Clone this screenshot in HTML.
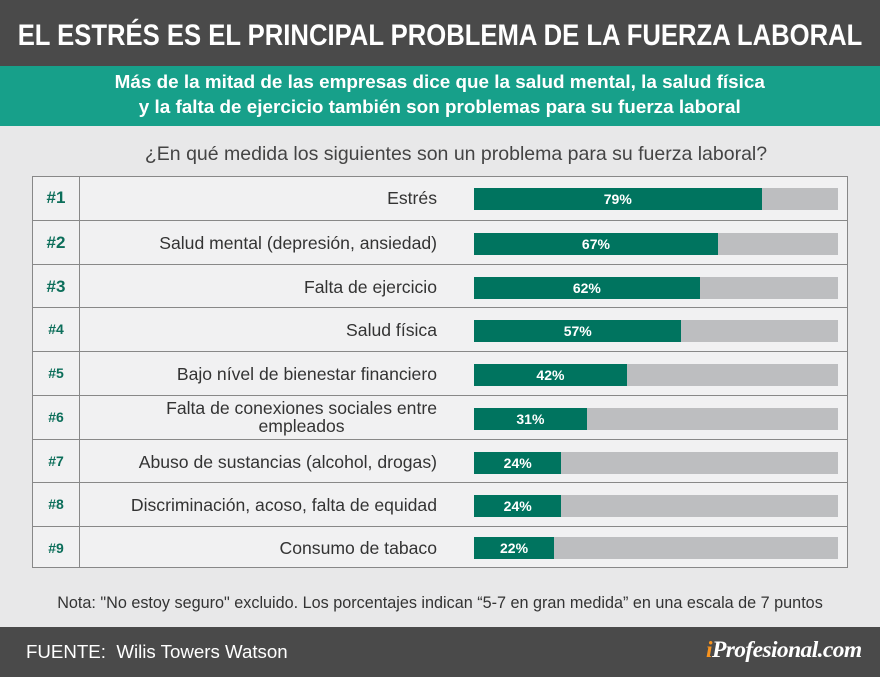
<!DOCTYPE html><html><head><meta charset="utf-8"><style>
body{margin:0;width:880px;height:677px;background:#e8e8e9;font-family:"Liberation Sans",sans-serif;position:relative;overflow:hidden}
.a{position:absolute}
.hd{left:0;top:0;width:880px;height:66px;background:#4a4a4a;overflow:hidden}
.hd span{position:absolute;left:440px;top:0;line-height:72px;color:#fff;font-weight:bold;font-size:30px;white-space:nowrap;transform:translateX(-50%) scaleX(0.855);transform-origin:center}
.sb{left:0;top:66px;width:880px;height:60px;background:#17a08a;color:#fff;font-weight:bold;font-size:18.5px;text-align:center;line-height:25px;padding-top:3px;box-sizing:border-box}
.sb span{display:inline-block;transform:scaleX(1.02)}
.q{left:16px;width:880px;top:143px;text-align:center;font-size:19.5px;color:#444}
.tb{left:32px;top:176px;width:816px;height:392px;border:1px solid #888;box-sizing:border-box;background:#f1f1f2}
.row{position:absolute;left:0;width:814px;border-top:1px solid #888;box-sizing:border-box}
.rk{position:absolute;left:0;width:47px;border-right:1px solid #888;height:100%;box-sizing:border-box;text-align:center;color:#0c6e5a;font-weight:bold}
.lb{position:absolute;right:410px;text-align:right;font-size:17.6px;color:#333;line-height:18px}
.bg{position:absolute;left:441px;width:364px;height:22px;background:#bdbec0}
.fg{position:absolute;left:0;top:0;height:22px;background:#00745f;color:#fff;font-weight:bold;font-size:14px;text-align:center;line-height:23px}
.nt{left:0;width:880px;top:594px;text-align:center;font-size:16.2px;color:#333;white-space:nowrap}
.ft{left:0;top:627px;width:880px;height:50px;background:#4a4a4a}
</style></head><body>
<div class="a hd"><span>EL ESTRÉS ES EL PRINCIPAL PROBLEMA DE LA FUERZA LABORAL</span></div>
<div class="a sb"><span>Más de la mitad de las empresas dice que la salud mental, la salud física<br>y la falta de ejercicio también son problemas para su fuerza laboral</span></div>
<div class="a q">¿En qué medida los siguientes son un problema para su fuerza laboral?</div>
<div class="a tb">
<div class="row" style="top:-1px;height:44px;border-top:none"><div class="rk" style="font-size:17px;line-height:44px">#1</div><div class="lb" style="top:13px">Estrés</div><div class="bg" style="top:12px"><div class="fg" style="width:79%">79%</div></div></div>
<div class="row" style="top:43px;height:44px"><div class="rk" style="font-size:17px;line-height:43px">#2</div><div class="lb" style="top:13px">Salud mental (depresión, ansiedad)</div><div class="bg" style="top:12px"><div class="fg" style="width:67%">67%</div></div></div>
<div class="row" style="top:87px;height:44px"><div class="rk" style="font-size:17px;line-height:43px">#3</div><div class="lb" style="top:13px">Falta de ejercicio</div><div class="bg" style="top:12px"><div class="fg" style="width:62%">62%</div></div></div>
<div class="row" style="top:130px;height:44px"><div class="rk" style="font-size:14px;line-height:43px">#4</div><div class="lb" style="top:13px">Salud física</div><div class="bg" style="top:12px"><div class="fg" style="width:57%">57%</div></div></div>
<div class="row" style="top:174px;height:44px"><div class="rk" style="font-size:14px;line-height:43px">#5</div><div class="lb" style="top:13px">Bajo nível de bienestar financiero</div><div class="bg" style="top:12px"><div class="fg" style="width:42%">42%</div></div></div>
<div class="row" style="top:218px;height:44px"><div class="rk" style="font-size:14px;line-height:43px">#6</div><div class="lb" style="top:3px;text-align:center">Falta de conexiones sociales entre<br>empleados</div><div class="bg" style="top:12px"><div class="fg" style="width:31%">31%</div></div></div>
<div class="row" style="top:262px;height:44px"><div class="rk" style="font-size:14px;line-height:43px">#7</div><div class="lb" style="top:13px">Abuso de sustancias (alcohol, drogas)</div><div class="bg" style="top:12px"><div class="fg" style="width:24%">24%</div></div></div>
<div class="row" style="top:305px;height:44px"><div class="rk" style="font-size:14px;line-height:43px">#8</div><div class="lb" style="top:13px">Discriminación, acoso, falta de equidad</div><div class="bg" style="top:12px"><div class="fg" style="width:24%">24%</div></div></div>
<div class="row" style="top:349px;height:42px"><div class="rk" style="font-size:14px;line-height:42px">#9</div><div class="lb" style="top:12px">Consumo de tabaco</div><div class="bg" style="top:10px"><div class="fg" style="width:22%">22%</div></div></div>
</div>
<div class="a nt">Nota: "No estoy seguro" excluido. Los porcentajes indican “5-7 en gran medida” en una escala de 7 puntos</div>
<div class="a ft"></div>
<div class="a" style="left:26px;top:641px;color:#fff;font-size:18.7px">FUENTE:&nbsp; Wilis Towers Watson</div>
<div class="a" style="left:706px;top:637px;color:#fff;font-family:'Liberation Serif',serif;font-style:italic;font-weight:bold;font-size:23.5px;letter-spacing:-0.6px"><span style="color:#f7931e">i</span>Profesional.com</div>
</body></html>
